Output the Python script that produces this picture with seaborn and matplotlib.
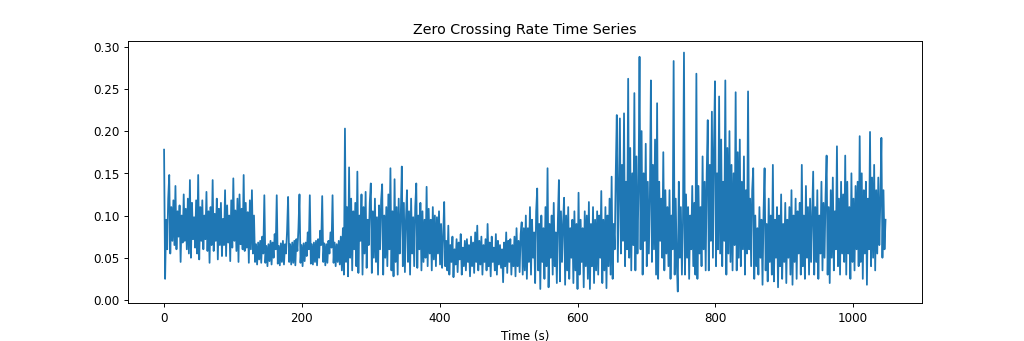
import numpy as np
import pandas as pd
import matplotlib
matplotlib.use("Agg")
import matplotlib.pyplot as plt
import seaborn as sns

# Zero crossing rate values (in thousandths), 1.5 s per frame
seg_a = [178, 25, 95, 60, 120, 148, 55, 110, 70, 118,
         65, 135, 60, 105, 75, 112, 45, 100, 68, 125,
         70, 108, 60, 120, 55, 142, 50, 115, 72, 98,
         62, 118, 55, 148, 48, 110, 70, 118, 60, 100,
         72, 128, 58, 105, 44, 110, 65, 142, 58, 102,
         70, 120, 48, 108, 65, 115, 52, 96, 65, 130,
         52, 112, 68, 100, 46, 118, 62, 144, 70, 106,
         58, 120, 45, 125, 66, 108, 60, 148, 58, 115,
         62, 104, 44, 118, 60, 130, 55, 100]
seg_b = [45, 66, 42, 68, 48, 70, 44, 75, 55, 124,
         44, 64, 40, 66, 46, 70, 42, 68, 50, 78,
         60, 124, 43, 64, 41, 67, 45, 70, 42, 66,
         55, 82, 122, 45, 66, 42, 68, 44, 70, 41,
         72, 58, 85, 125, 44, 65, 40, 67, 46, 68,
         52, 80, 60, 124, 43, 66, 42, 68, 45, 70,
         41, 72, 50, 82, 65, 123, 45, 67, 41, 66,
         44, 70, 55, 80, 62, 124, 44, 68, 40, 66,
         45, 70, 42, 75, 35, 85]
seg_c = [30, 203, 45, 110, 28, 157, 50, 120, 35, 105,
         60, 115, 40, 152, 32, 100, 70, 125, 30, 110,
         55, 128, 38, 95, 65, 115, 138, 32, 105, 50,
         120, 45, 98, 30, 112, 60, 118, 137, 30, 100,
         50, 110, 40, 125, 60, 156, 35, 105, 28, 143,
         45, 110, 30, 120, 55, 100, 158, 40, 115, 33,
         95, 130, 45, 105, 30, 120, 55, 98, 40, 110,
         138, 38, 100, 60, 115, 35, 105, 45, 95, 50,
         134, 40, 108, 55, 95, 35, 110, 48, 100, 40,
         98, 55, 105, 42, 90, 38, 75, 116]
seg_d = [40, 70, 35, 88, 30, 65, 45, 75, 27, 60,
         42, 72, 33, 68, 48, 78, 30, 62, 40, 70,
         35, 72, 45, 65, 28, 75, 40, 68, 32, 80,
         45, 88, 35, 70, 42, 75, 30, 65, 45, 72,
         35, 90, 40, 68, 28, 75, 45, 62, 35, 78,
         30, 70, 42, 65, 38, 60, 21, 68, 40, 80,
         32, 70, 45, 72, 30, 65, 40, 75, 28, 85,
         40, 70, 33, 78, 92, 30, 85, 35]
seg_e = [100, 25, 85, 45, 110, 30, 95, 50, 80, 20,
         105, 132, 35, 90, 13, 100, 45, 85, 25, 110,
         40, 156, 15, 90, 50, 100, 30, 115, 40, 80,
         20, 95, 142, 22, 105, 45, 90, 121, 18, 100,
         35, 110, 25, 85, 50, 95, 20, 105, 35, 90,
         13, 127, 30, 95, 45, 85, 15, 105, 40, 100,
         25, 116, 13, 90, 40, 110, 20, 95, 35, 105,
         30, 100, 50, 129, 20, 95, 35, 110, 14, 100,
         40, 120, 30, 146, 25, 90]
seg_f = [60, 150, 219, 45, 130, 215, 55, 160, 70, 221,
         40, 140, 60, 262, 50, 180, 35, 150, 65, 245,
         35, 170, 55, 130, 288, 60, 200, 30, 150, 70,
         185, 40, 140, 55, 120, 260, 45, 160, 60, 190,
         30, 233, 25, 140, 70, 120, 50, 175, 35, 130,
         55, 110, 40, 130, 25, 100, 60, 283, 30, 120,
         45, 10, 140, 50, 110, 30, 90, 293, 30, 125,
         50, 110, 25, 100, 60, 135, 40, 115, 30, 268,
         25, 135, 55, 110, 40, 170, 60, 140, 35, 150,
         213, 35, 160, 70, 223, 50, 180, 259, 40, 150,
         60, 241, 55, 190, 40, 140, 70, 260, 30, 180,
         55, 200, 45, 160, 35, 150, 65, 246, 35, 175,
         50, 190, 40, 140, 60, 170, 30, 130, 55, 247,
         60, 120, 40, 130]
seg_g = [156, 25, 100, 40, 85, 30, 110, 50, 95, 18,
         105, 156, 35, 90, 22, 120, 45, 100, 30, 160,
         22, 95, 50, 110, 15, 100, 40, 125, 25, 90,
         45, 115, 20, 95, 50, 110, 30, 130, 18, 100,
         45, 120, 25, 105, 55, 115, 30, 160, 40, 100,
         25, 135, 50, 110, 30, 120, 45, 100, 152, 30,
         110, 45, 130, 25, 100, 55, 140, 35, 115, 50,
         125, 171, 30, 110, 20, 130, 50, 145, 35, 105,
         60, 182, 40, 120, 30, 140, 55, 125, 45, 171,
         30, 140, 55, 110, 25, 150, 45, 120, 35, 135,
         60, 140, 40, 194, 45, 150, 25, 130, 55, 140,
         18, 120, 60, 199, 40, 145, 50, 160, 35, 130,
         55, 145, 65, 120, 192, 50, 130, 60, 95]
frame_step_s = 1.5

zcr = np.array(seg_a + seg_b + seg_c + seg_d + seg_e + seg_f + seg_g) / 1000.0
time_s = np.arange(len(zcr)) * frame_step_s
df = pd.DataFrame({"time": time_s, "zcr": zcr})

fig, ax = plt.subplots(figsize=(12, 4), dpi=1024 / 12)
sns.lineplot(data=df, x="time", y="zcr", estimator=None, color="#1f77b4",
             linewidth=1.5, ax=ax)
ax.set_title("Zero Crossing Rate Time Series")
ax.set_xlabel("Time (s)")
ax.set_ylabel("")
fig.savefig("out.png", dpi=1024 / 12)
